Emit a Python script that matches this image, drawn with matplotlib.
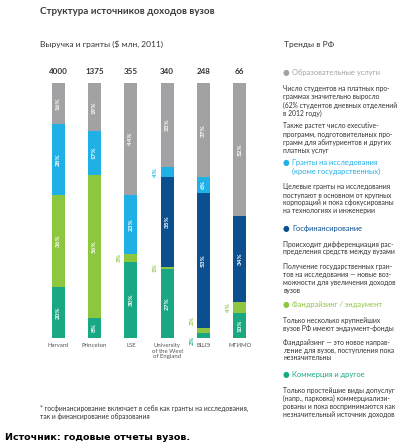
import matplotlib.pyplot as plt
import numpy as np

plt.rcParams['font.family'] = ['Lato', 'DejaVu Sans']

# --- DATA ---
universities = ['Harvard', 'Princeton', 'LSE', 'University\nof the West\nof England', 'ВШЭ', 'МГИМО']
totals = ['4000', '1375', '355', '340', '248', '66']

# shares in %, bottom to top
commerce = [20, 8, 30, 27, 2, 10]
fundraising = [36, 56, 3, 1, 2, 4]
gov_funding = [0, 0, 0, 35, 53, 34]
grants = [28, 17, 23, 4, 6, 0]
education = [16, 19, 44, 33, 37, 52]

GREY = '#a2a2a4'
LBLUE = '#1fb0e6'
DBLUE = '#0b4f8f'
GREEN = '#8dc63f'
TEAL = '#19a883'
TXT = '#333333'

series = [
    (commerce, TEAL),
    (fundraising, GREEN),
    (gov_funding, DBLUE),
    (grants, LBLUE),
    (education, GREY),
]

W, H = 403, 446
fig = plt.figure(figsize=(W / 100, H / 100), dpi=100)
fig.patch.set_facecolor('white')

def fx(px):
    return px / W

def fy(py):
    return 1 - py / H

# --- BARS ---
ax = fig.add_axes([fx(40), fy(338), fx(258) - fx(40), fy(83) - fy(338)])
x = np.arange(len(universities))
bw = 0.36
bottom = np.zeros(len(universities))
for vals, col in series:
    vals = np.array(vals, dtype=float)
    ax.bar(x, vals, bw, bottom=bottom, color=col, linewidth=0)
    for i, v in enumerate(vals):
        if v == 0:
            continue
        yc = bottom[i] + v / 2
        if v >= 5:
            ax.text(x[i], yc, f'{int(v)}%', rotation=90, ha='center', va='center',
                    color='white', fontsize=4.6, fontweight='bold')
        else:
            # small segments: coloured label to the left of the bar
            dy = 0
            if col == GREEN and i == 4:
                dy = 4
            if col == TEAL and i == 4:
                dy = -2
            ax.text(x[i] - 0.32, yc + dy, f'{int(v)}%', rotation=90, ha='center',
                    va='center', color=col, fontsize=4.6, fontweight='bold')
    bottom += vals

ax.set_xlim(-0.5, len(universities) - 0.5)
ax.set_ylim(0, 100)
ax.axis('off')

# totals above bars and names below
for i in range(len(universities)):
    xp = 40 + (i + 0.5) * (218 / 6)
    fig.text(fx(xp), fy(72), totals[i], ha='center', va='center',
             fontsize=5.8, fontweight='bold', color=TXT)
    fig.text(fx(xp), fy(343), universities[i], ha='center', va='top',
             fontsize=4.3, color='#555555', linespacing=1.15)

# --- HEADINGS ---
fig.text(fx(40), fy(12), 'Структура источников доходов вузов', ha='left', va='center',
         fontsize=7.0, fontweight='bold', color='#3a3a3a')
fig.text(fx(40), fy(44), 'Выручка и гранты ($ млн, 2011)', ha='left', va='center',
         fontsize=6.0, color=TXT)
fig.text(fx(284), fy(44), 'Тренды в РФ', ha='left', va='center',
         fontsize=6.0, color=TXT)

# --- RIGHT PANEL ---
panel = [
    ('legend', 73, 'Образовательные услуги', GREY),
    ('body', 89, ['Число студентов на платных про-', 'граммах значительно выросло',
                  '(62% студентов дневных отделений', 'в 2012 году)']),
    ('body', 126, ['Также растет число executive-', 'программ, подготовительных про-',
                   'грамм для абитуриентов и других', 'платных услуг']),
    ('legend', 163, 'Гранты на исследования\n(кроме государственных)', LBLUE),
    ('body', 187, ['Целевые гранты на исследования', 'поступают в основном от крупных',
                   'корпораций и пока сфокусированы', 'на технологиях и инженерии']),
    ('legend', 228, 'Госфинансирование', DBLUE),
    ('body', 244, ['Происходит дифференциация рас-', 'пределения средств между вузами']),
    ('body', 266, ['Получение государственных гран-', 'тов на исследования — новые воз-',
                   'можности для увеличения доходов', 'вузов']),
    ('legend', 304, 'Фандрайзинг / эндаумент', GREEN),
    ('body', 321, ['Только несколько крупнейших', 'вузов РФ имеют эндаумент-фонды']),
    ('body', 342, ['Фандрайзинг — это новое напрaв-', 'ление для вузов, поступления пока',
                   'незначительны']),
    ('legend', 374, 'Коммерция и другое', TEAL),
    ('body', 390, ['Только простейшие виды допуслуг', '(напр., парковка) коммерциализи-',
                   'рованы и пока воспринимаются как', 'незначительный источник доходов']),
]

for item in panel:
    if item[0] == 'legend':
        _, y, label, col = item
        lines = label.split('\n')
        fig.text(fx(286), fy(y), '●', ha='center', va='center', fontsize=5.5,
                 color=col, family='DejaVu Sans')
        for k, ln in enumerate(lines):
            fig.text(fx(292), fy(y + k * 8), ln, ha='left', va='center',
                     fontsize=5.4, color=col)
    else:
        _, y, lines = item
        for k, ln in enumerate(lines):
            fig.text(fx(283), fy(y + k * 8), ln, ha='left', va='center',
                     fontsize=4.85, color=TXT)

# --- FOOTNOTE / SOURCE ---
fig.text(fx(40), fy(408), '* госфинансирование включает в себя как гранты на исследования,',
         ha='left', va='center', fontsize=4.8, color=TXT)
fig.text(fx(40), fy(416), 'так и финансирование образования',
         ha='left', va='center', fontsize=4.8, color=TXT)
fig.text(fx(5), fy(438), 'Источник: годовые отчеты вузов.', ha='left', va='center',
         fontsize=6.8, fontweight='bold', color='black', family='DejaVu Sans')

fig.savefig('out.png', dpi=100, facecolor='white')
